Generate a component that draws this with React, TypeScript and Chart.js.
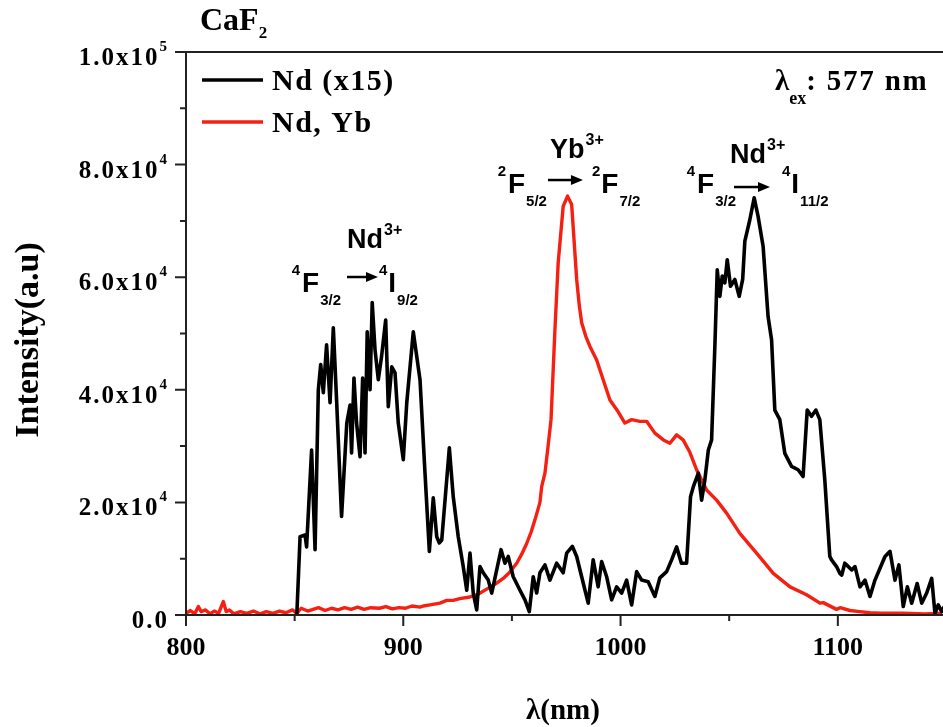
import React, { useEffect, useRef } from 'react';
import { Chart, registerables } from 'chart.js';

Chart.register(...registerables);

// ---- Data ----
const ndWavelength = [
  851, 852.5, 854.8, 855.5, 857.8, 859.4, 860.9, 862, 863.2, 864.7, 866.3, 867.8, 869.3, 871.6, 874, 875.5,
  876.2, 877.3, 878.5, 880.1, 881.3, 882.4, 883.4, 884.7, 885.7, 887, 888.5, 890, 891.9, 893.1, 894.7, 896.2,
  897.7, 900, 901.6, 904.6, 906.2, 907.7, 910, 912, 913.8, 915.4, 916.6, 917.7, 921.2, 923, 925.3, 927.6,
  929.2, 930.7, 932.2, 933.8, 935.3, 936.8, 939.1, 940.7, 943, 945, 946.8, 948.3, 950.6, 953.7, 956, 958,
  959.8, 961.4, 962.9, 965.2, 967.5, 970.6, 973.6, 975.2, 977.8, 979.8, 982.1, 985.1, 987.4, 989.7, 991.3,
  993.6, 995.9, 998.2, 1000.5, 1002.8, 1005.1, 1007.4, 1009.7, 1012.7, 1015.8, 1018.1, 1021.2, 1023.5,
  1025.8, 1028, 1030.4, 1032.2, 1033.5, 1035.8, 1037.3, 1038.8, 1040.4, 1041.9, 1043.4, 1044.5, 1045.7,
  1046.8, 1048, 1049.1, 1050.6, 1052.6, 1054.6, 1056.2, 1057.2, 1059.5, 1061.5, 1063.3, 1065.6, 1067.9,
  1069.5, 1071, 1073.3, 1075.6, 1078.7, 1081.7, 1084, 1085.9, 1087.9, 1089.9, 1091.7, 1094, 1096.3, 1097.1,
  1099.4, 1100.9, 1101.8, 1103.2, 1104, 1106.4, 1107.9, 1110.2, 1112.5, 1114.8, 1117.1, 1119.4, 1121.7,
  1124, 1126.3, 1128.1, 1130.1, 1132, 1134, 1136.5, 1138.6, 1140.9, 1143.2, 1144.7, 1146.2, 1147.8, 1149,
];
const ndIntensity = [
  0, 13900, 14200, 12100, 29300, 11600, 40000, 44500, 39500, 48000, 37700, 51000, 38200, 17500, 34100, 37300,
  28800, 42100, 34100, 28100, 42100, 28800, 50300, 40000, 55500, 47100, 41800, 45900, 52400, 37000, 44100, 43000,
  34100, 27600, 37700, 50300, 45900, 41800, 25200, 11300, 20800, 13900, 12800, 13300, 29700, 21000, 13900, 8600,
  4400, 11000, 3900, 900, 8600, 7500, 6200, 3900, 8000, 11600, 9200, 10400, 6800, 4400, 2700, 600,
  6800, 3900, 7500, 8900, 6200, 9200, 7500, 11000, 12200, 10400, 6800, 2100, 9800, 5000, 9500,
  6800, 2700, 5000, 3900, 6200, 1800, 7700, 6200, 5900, 3300, 6600, 7700, 9800,
  12100, 9200, 9200, 21000, 22800, 25200, 20400, 24000, 29300, 31100, 47700, 61300, 56600,
  60200, 59000, 63100, 58400, 59600, 56600, 59600, 66400, 70200, 74100, 70800, 65500, 53000,
  48900, 36400, 34700, 28700, 26400, 25800, 24600, 36400, 35300, 36400, 34700, 24000, 10400, 9800,
  8600, 7400, 7100, 9200, 8900, 8000, 8600, 5000, 6200, 3300, 6200, 8300, 10400,
  11300, 6200, 8900, 1500, 5000, 2100, 5600, 2100, 3900, 6500, 300, 1800, 600, 1500,
];

const ndYbWavelength = [
  800, 802, 804, 805.7, 807, 809, 811, 813, 815, 817.2, 818.5, 820, 822, 825, 828, 831, 834, 837, 840, 843,
  846, 849, 851, 853, 856, 858.5, 861, 864, 867, 870, 873, 876, 879, 882, 885, 889, 892, 895, 898, 901, 904,
  907.7, 909.2, 912.3, 916.9, 920, 923, 926, 930.7, 934, 938.4, 942, 946, 949, 952.2, 954.5, 956.8, 958.8,
  960.6, 962.9, 963.7, 965.2, 966.5, 968, 969.8, 971.3, 973.6, 975.6, 977.5, 978.7, 979.8, 981, 982.1, 984,
  985.9, 989, 992, 995.1, 998.9, 1002, 1005.1, 1008.9, 1012, 1015.8, 1019.7, 1022.7, 1025.8, 1028.8, 1031.9,
  1035, 1039.6, 1044.2, 1048.8, 1054.9, 1062.6, 1070.3, 1078, 1085.6, 1091.8, 1093.3, 1099.4, 1101, 1105.6,
  1110, 1114.8, 1120, 1130, 1140, 1148,
];
const ndYbIntensity = [
  300, 800, 200, 1500, 600, 900, 200, 700, 300, 2400, 600, 900, 200, 600, 300, 700, 200, 600, 300, 700,
  400, 900, 300, 1200, 700, 1000, 1300, 800, 1200, 900, 1300, 1000, 1400, 1000, 1300, 1200, 1500, 1100, 1300, 1200, 1600,
  1400, 1600, 1800, 2100, 2600, 2600, 2900, 3200, 3600, 4600, 5400, 6500, 7600, 9200, 10800, 12700, 14700,
  16900, 20000, 22800, 25200, 29500, 34700, 50700, 62600, 72600, 74400, 72900, 66000, 59600, 55000, 51900, 49500,
  47700, 45300, 41800, 38200, 36100, 34100, 34700, 34400, 34400, 32300, 31100, 30500, 32000, 31100, 28900,
  25800, 22200, 20400, 18100, 14500, 11000, 7400, 5000, 3600, 2100, 2200, 1000, 1300, 800,
  600, 400, 300, 300, 200, 300,
];

const seriesLabels = ['Nd (x15)', 'Nd, Yb'];
const xMajorTicks = [800, 900, 1000, 1100];
const xMinorTicks = [850, 950, 1050, 1150];
const yMajorTicks = [0, 20000, 40000, 60000, 80000, 100000];
const yTickMantissa = ['0.0', '2.0x10', '4.0x10', '6.0x10', '8.0x10', '1.0x10'];
const yTickExponent = ['', '4', '4', '4', '4', '5'];
const yMinorTicks = [10000, 30000, 50000, 70000, 90000];

const SERIF = '"Liberation Serif", "Times New Roman", serif';
const SANS = '"Liberation Sans", Arial, sans-serif';

function setSpacing(ctx: any, px: number) {
  if ('letterSpacing' in ctx) ctx.letterSpacing = px + 'px';
}

function drawArrow(ctx: CanvasRenderingContext2D, x1: number, x2: number, y: number) {
  ctx.save();
  ctx.strokeStyle = '#000';
  ctx.fillStyle = '#000';
  ctx.lineWidth = 2.5;
  ctx.beginPath();
  ctx.moveTo(x1, y);
  ctx.lineTo(x2 - 9, y);
  ctx.stroke();
  ctx.beginPath();
  ctx.moveTo(x2, y);
  ctx.lineTo(x2 - 12, y - 5);
  ctx.lineTo(x2 - 12, y + 5);
  ctx.closePath();
  ctx.fill();
  ctx.restore();
}

type Transition = {
  nm: number; val: number; ion: string; charge: string; ionDx: number; ionDy: number;
  lSup: string; lLetter: string; lSub: string; rSup: string; rLetter: string; rSub: string;
  arrowGap: number; arrowLen: number; arrowDy: number; rGap: number;
};

const transitions: Transition[] = [
  { nm: 853.4, val: 57370, ion: 'Nd', charge: '3+', ionDx: 45, ionDy: -44,
    lSup: '4', lLetter: 'F', lSub: '3/2', rSup: '4', rLetter: 'I', rSub: '9/2',
    arrowGap: 6, arrowLen: 31, arrowDy: -15, rGap: 1 },
  { nm: 948.2, val: 74950, ion: 'Yb', charge: '3+', ionDx: 42, ionDy: -35,
    lSup: '2', lLetter: 'F', lSub: '5/2', rSup: '2', rLetter: 'F', rSub: '7/2',
    arrowGap: 1, arrowLen: 35, arrowDy: -13, rGap: 9 },
  { nm: 1035.2, val: 74950, ion: 'Nd', charge: '3+', ionDx: 33, ionDy: -30,
    lSup: '4', lLetter: 'F', lSub: '3/2', rSup: '4', rLetter: 'I', rSub: '11/2',
    arrowGap: -2, arrowLen: 36, arrowDy: -6, rGap: 12 },
];

function drawTransition(ctx: CanvasRenderingContext2D, px: number, by: number, t: Transition) {
  ctx.save();
  ctx.fillStyle = '#000';
  ctx.textBaseline = 'alphabetic';
  const small = `bold 15px ${SANS}`;
  const big = `bold 28px ${SANS}`;
  ctx.font = small;
  ctx.textAlign = 'right';
  ctx.fillText(t.lSup, px - 2, by - 17);
  ctx.textAlign = 'left';
  ctx.font = big;
  ctx.fillText(t.lLetter, px, by);
  let x = px + ctx.measureText(t.lLetter).width + 1;
  ctx.font = small;
  ctx.fillText(t.lSub, x, by + 13);
  x += ctx.measureText(t.lSub).width;
  const a1 = x + t.arrowGap;
  const a2 = a1 + t.arrowLen;
  drawArrow(ctx, a1, a2, by + t.arrowDy);
  let x2 = a2 + t.rGap;
  ctx.font = small;
  ctx.fillText(t.rSup, x2, by - 17);
  x2 += ctx.measureText(t.rSup).width + 1;
  ctx.font = big;
  ctx.fillText(t.rLetter, x2, by);
  x2 += ctx.measureText(t.rLetter).width + 1;
  ctx.font = small;
  ctx.fillText(t.rSub, x2, by + 13);
  ctx.font = `bold 27px ${SANS}`;
  const ix = px + t.ionDx;
  const iy = by + t.ionDy;
  ctx.fillText(t.ion, ix, iy);
  const iw = ctx.measureText(t.ion).width;
  ctx.font = `bold 16px ${SANS}`;
  ctx.fillText(t.charge, ix + iw + 1, iy - 13);
  ctx.restore();
}

const decorPlugin = {
  id: 'decor',
  afterDraw(chart: any) {
    const ctx: CanvasRenderingContext2D = chart.ctx;
    const { left, right, top, bottom } = chart.chartArea;
    const xs = chart.scales.x;
    const ys = chart.scales.y;
    ctx.save();
    ctx.fillStyle = '#000';
    ctx.strokeStyle = '#222';
    ctx.lineWidth = 2;
    ctx.beginPath();
    ctx.moveTo(left, top);
    ctx.lineTo(left, bottom);
    ctx.lineTo(right + 2, bottom);
    ctx.moveTo(left, top);
    ctx.lineTo(right + 2, top);
    ctx.stroke();

    ctx.beginPath();
    yMajorTicks.forEach((v) => {
      const y = ys.getPixelForValue(v);
      ctx.moveTo(left, y);
      ctx.lineTo(left - 11, y);
    });
    yMinorTicks.forEach((v) => {
      const y = ys.getPixelForValue(v);
      ctx.moveTo(left, y);
      ctx.lineTo(left - 6, y);
    });
    xMajorTicks.forEach((v) => {
      const x = xs.getPixelForValue(v);
      ctx.moveTo(x, bottom);
      ctx.lineTo(x, bottom + 11);
    });
    xMinorTicks.forEach((v) => {
      const x = xs.getPixelForValue(v);
      ctx.moveTo(x, bottom);
      ctx.lineTo(x, bottom + 6);
    });
    ctx.stroke();

    // y tick labels
    ctx.textBaseline = 'alphabetic';
    ctx.textAlign = 'left';
    yMajorTicks.forEach((v, i) => {
      const y = ys.getPixelForValue(v);
      const main = yTickMantissa[i];
      const sup = yTickExponent[i];
      ctx.font = `bold 15px ${SERIF}`;
      setSpacing(ctx, 0);
      const ws = sup ? ctx.measureText(sup).width : 0;
      ctx.font = `bold 25px ${SERIF}`;
      setSpacing(ctx, 2);
      const wm = ctx.measureText(main).width - 2;
      const R = 167;
      const mx = R - ws - (sup ? 2 : 0) - wm;
      ctx.fillText(main, mx, y + 13);
      setSpacing(ctx, 0);
      if (sup) {
        ctx.font = `bold 15px ${SERIF}`;
        ctx.fillText(sup, R - ws, y - 1);
      }
    });

    // x tick labels
    ctx.textAlign = 'center';
    ctx.font = `bold 26px ${SERIF}`;
    xMajorTicks.forEach((v) => {
      ctx.fillText(String(v), xs.getPixelForValue(v), 655);
    });

    ctx.font = `bold 29px ${SERIF}`;
    ctx.fillText('λ(nm)', 563, 719);

    ctx.save();
    ctx.translate(38, 340);
    ctx.rotate(-Math.PI / 2);
    ctx.textAlign = 'center';
    ctx.font = `bold 34px ${SERIF}`;
    ctx.fillText('Intensity(a.u)', 0, 0);
    ctx.restore();

    ctx.textAlign = 'left';
    ctx.font = `bold 32px ${SERIF}`;
    ctx.fillText('CaF', 200, 30);
    const cw = ctx.measureText('CaF').width;
    ctx.font = `bold 17px ${SERIF}`;
    ctx.fillText('2', 200 + cw, 38);

    ctx.font = `bold 29px ${SERIF}`;
    ctx.fillText('λ', 775, 90);
    const lw = ctx.measureText('λ').width;
    ctx.font = `bold 18px ${SERIF}`;
    ctx.fillText('ex', 775 + lw, 104);
    const ew = ctx.measureText('ex').width;
    ctx.font = `bold 29px ${SERIF}`;
    setSpacing(ctx, 1.8);
    ctx.fillText(': 577 nm', 775 + lw + ew, 90);
    setSpacing(ctx, 0);

    const legendY = [80, 122];
    chart.data.datasets.forEach((ds: any, i: number) => {
      const y = legendY[i];
      ctx.strokeStyle = ds.borderColor;
      ctx.lineWidth = 3.5;
      ctx.beginPath();
      ctx.moveTo(202, y);
      ctx.lineTo(263, y);
      ctx.stroke();
      ctx.fillStyle = '#000';
      ctx.font = `bold 30px ${SERIF}`;
      setSpacing(ctx, 1.5);
      ctx.textAlign = 'left';
      ctx.fillText(ds.label, 272, y + 10);
      setSpacing(ctx, 0);
    });

    transitions.forEach((t) => {
      drawTransition(ctx, xs.getPixelForValue(t.nm), ys.getPixelForValue(t.val), t);
    });
    ctx.restore();
  },
};

export default function App() {
  const ref = useRef<HTMLCanvasElement | null>(null);
  useEffect(() => {
    document.body.style.margin = '0';
    const canvas = ref.current;
    if (!canvas) return;
    const toPts = (xs: number[], ys: number[]) => xs.map((x, i) => ({ x, y: ys[i] }));
    const chart = new Chart(canvas, {
      type: 'line',
      data: {
        datasets: [
          {
            label: seriesLabels[0],
            data: toPts(ndWavelength, ndIntensity),
            borderColor: '#000000',
            borderWidth: 3.6,
            borderJoinStyle: 'round',
            pointRadius: 0,
            tension: 0,
            fill: false,
          },
          {
            label: seriesLabels[1],
            data: toPts(ndYbWavelength, ndYbIntensity),
            borderColor: 'rgb(245,32,18)',
            borderWidth: 3.4,
            borderJoinStyle: 'round',
            pointRadius: 0,
            tension: 0,
            fill: false,
          },
        ],
      },
      options: {
        animation: false,
        responsive: false,
        devicePixelRatio: 1,
        layout: { padding: { top: 52, right: 0, left: 0, bottom: 0 } },
        plugins: { legend: { display: false }, tooltip: { enabled: false }, title: { display: false } },
        scales: {
          x: {
            type: 'linear',
            min: 800,
            max: 1148.4,
            ticks: { display: false },
            grid: { display: false },
            border: { display: false },
            afterFit: (s: any) => { s.height = 112; },
          },
          y: {
            type: 'linear',
            min: 0,
            max: 100000,
            ticks: { display: false },
            grid: { display: false },
            border: { display: false },
            afterFit: (s: any) => { s.width = 186; },
          },
        },
      },
      plugins: [decorPlugin],
    } as any);
    return () => chart.destroy();
  }, []);
  return (
    <div style={{ width: 943, height: 727, background: '#fff' }}>
      <canvas ref={ref} width={943} height={727} style={{ display: 'block', width: 943, height: 727 }} />
    </div>
  );
}
